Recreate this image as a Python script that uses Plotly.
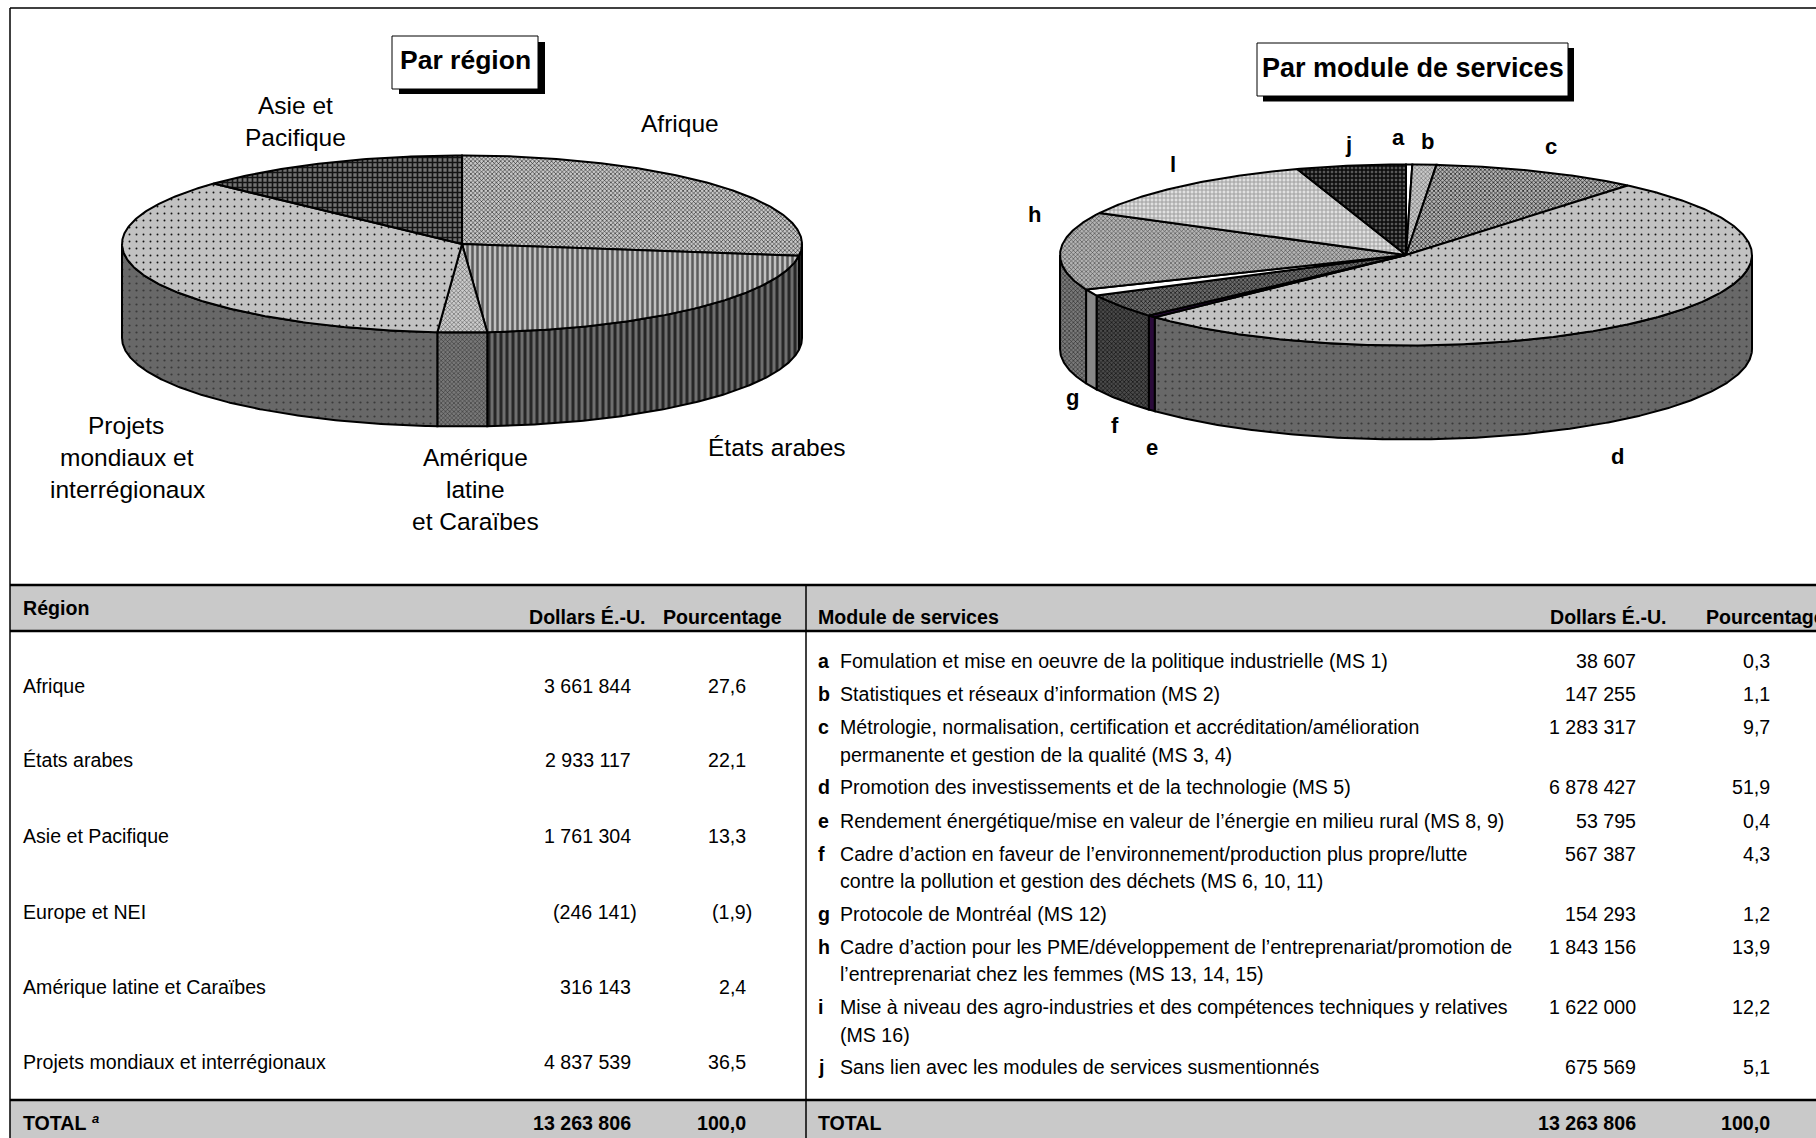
import numpy as np
import plotly.graph_objects as go

# ---------- data ----------
region_pie_labels = ["Afrique", "États arabes", "Amérique latine et Caraïbes",
                     "Projets mondiaux et interrégionaux", "Asie et Pacifique"]
region_pie_values = [3661844, 2933117, 316143, 4837539, 1761304]

module_keys = ["a", "b", "c", "d", "e", "f", "g", "h", "i", "j"]
module_values = [38607, 147255, 1283317, 6878427, 53795, 567387, 154293, 1843156, 1622000, 675569]
module_dollars = ["38 607", "147 255", "1 283 317", "6 878 427", "53 795", "567 387",
                  "154 293", "1 843 156", "1 622 000", "675 569"]
module_pct = ["0,3", "1,1", "9,7", "51,9", "0,4", "4,3", "1,2", "13,9", "12,2", "5,1"]
module_text = [
    ["Fomulation et mise en oeuvre de la politique industrielle (MS 1)"],
    ["Statistiques et réseaux d’information (MS 2)"],
    ["Métrologie, normalisation, certification et accréditation/amélioration",
     "permanente et gestion de la qualité (MS 3, 4)"],
    ["Promotion des investissements et de la technologie (MS 5)"],
    ["Rendement énergétique/mise en valeur de l’énergie en milieu rural (MS 8, 9)"],
    ["Cadre d’action en faveur de l’environnement/production plus propre/lutte",
     "contre la pollution et gestion des déchets (MS 6, 10, 11)"],
    ["Protocole de Montréal (MS 12)"],
    ["Cadre d’action pour les PME/développement de l’entreprenariat/promotion de",
     "l’entreprenariat chez les femmes (MS 13, 14, 15)"],
    ["Mise à niveau des agro-industries et des compétences techniques y relatives",
     "(MS 16)"],
    ["Sans lien avec les modules de services susmentionnés"],
]

region_rows = ["Afrique", "États arabes", "Asie et Pacifique", "Europe et NEI",
               "Amérique latine et Caraïbes", "Projets mondiaux et interrégionaux"]
region_dollars = ["3 661 844", "2 933 117", "1 761 304", "(246 141)", "316 143", "4 837 539"]
region_pct = ["27,6", "22,1", "13,3", "(1,9)", "2,4", "36,5"]
total_dollars = "13 263 806"
total_pct = "100,0"

# ---------- layout constants ----------
W, H = 1816, 1138
FONT = "Liberation Sans"
BODY = 19.6


def pat(shape, fg, bg, size, sol):
    return dict(shape=shape, fgcolor=fg, bgcolor=bg, size=size, solidity=sol, fillmode="replace")


DOTS_TOP = pat(".", "#111111", "#c2c2c2", 7, 0.06)
DOTS_SIDE = pat(".", "#3a3a3a", "#686868", 7, 0.08)

# each slice: (top surface, side surface); a plain string is a solid colour
region_style = [
    (pat("x", "#0a0a0a", "#c8c8c8", 3, 0.32), pat("|", "#202020", "#6a6a6a", 6, 0.4)),
    (pat("|", "#5c5c5c", "#c0c0c0", 5, 0.5), pat("|", "#262626", "#6e6e6e", 6, 0.5)),
    (pat("x", "#444444", "#cccccc", 3, 0.3), pat("x", "#2a2a2a", "#787878", 3, 0.3)),
    (DOTS_TOP, DOTS_SIDE),
    (pat("+", "#141414", "#747474", 5, 0.55), pat("+", "#141414", "#747474", 5, 0.55)),
]
module_style = [
    ("#ffffff", "#ffffff"),
    (pat("x", "#555555", "#c8c8c8", 3, 0.3), pat("x", "#555555", "#c8c8c8", 3, 0.3)),
    (pat("x", "#0a0a0a", "#b4b4b4", 3, 0.38), pat("x", "#0a0a0a", "#b4b4b4", 3, 0.38)),
    (DOTS_TOP, DOTS_SIDE),
    ("#2a0a3a", "#2a0a3a"),
    (pat("x", "#0c0c0c", "#6c6c6c", 3, 0.38), pat("x", "#0c0c0c", "#4a4a4a", 3, 0.38)),
    ("#ffffff", "#888888"),
    (pat("x", "#444444", "#b4b4b4", 3, 0.35), pat("x", "#262626", "#7a7a7a", 3, 0.35)),
    (pat("+", "#a0a0a0", "#e0e0e0", 4, 0.45), pat("+", "#a0a0a0", "#e0e0e0", 4, 0.45)),
    (pat("+", "#0a0a0a", "#585858", 4, 0.6), pat("+", "#0a0a0a", "#585858", 4, 0.6)),
]

fig = go.Figure()


def face(x, y, nm, style):
    kw = dict(fillcolor=style) if isinstance(style, str) else dict(fillpattern=style, fillcolor="rgba(0,0,0,0)")
    fig.add_trace(go.Scatter(x=x, y=y, mode="lines", fill="toself", line=dict(color="black", width=2),
                             name=nm, hoverinfo="name", showlegend=False, **kw))


def pie3d(values, names, styles, cx, cy, rx, ry, depth):
    v = np.asarray(values, dtype=float)
    edges = np.concatenate([[0.0], np.cumsum(v) / v.sum() * 360.0])

    def arc(a, b, dy=0.0):
        t = np.radians(np.linspace(a, b, max(int(abs(b - a) * 2), 2)))
        return cx + rx * np.sin(t), cy - ry * np.cos(t) + dy

    for i, nm in enumerate(names):
        a, b = max(edges[i], 90.0), min(edges[i + 1], 270.0)
        if b <= a:
            continue
        xt, yt = arc(a, b)
        xb, yb = arc(b, a, depth)
        face(np.r_[xt, xb, xt[0]], np.r_[yt, yb, yt[0]], nm, styles[i][1])
    for i, nm in enumerate(names):
        xt, yt = arc(edges[i], edges[i + 1])
        face(np.r_[cx, xt, cx], np.r_[cy, yt, cy], nm, styles[i][0])


pie3d(region_pie_values, region_pie_labels, region_style, 462, 244, 340, 88.5, 94)
pie3d(module_values, module_keys, module_style, 1406, 255, 346, 90.5, 94)

ann = []


def T(x, y, s, anchor="left", size=BODY, bold=False, italic=False, color="black"):
    txt = s
    if bold:
        txt = f"<b>{txt}</b>"
    if italic:
        txt = f"<i>{txt}</i>"
    ann.append(dict(x=x, y=y, xref="x", yref="y", text=txt, showarrow=False, xanchor=anchor,
                    yanchor="middle", font=dict(family=FONT, size=size, color=color),
                    borderpad=0, borderwidth=0))


# pie labels
PL = 24.5
for x, y, s in [(295, 105, "Asie et"), (295, 137, "Pacifique"), (680, 123, "Afrique"),
                (777, 447, "États arabes"), (126, 425, "Projets"), (127, 457, "mondiaux et"),
                (127, 489, "interrégionaux"), (475, 457, "Amérique"), (475, 489, "latine"),
                (475, 521, "et Caraïbes")]:
    T(x, y, s, "center", PL)
for x, y, s in [(1348, 144, "j"), (1398, 137, "a"), (1427, 141, "b"), (1551, 146, "c"),
                (1173, 164, "l"), (1034, 214, "h"), (1072, 397, "g"), (1115, 425, "f"),
                (1152, 447, "e"), (1617, 456, "d")]:
    T(x, y, s, "center", 22, bold=True)

T(465, 60, "Par région", "center", 26.5, bold=True)
T(1413, 68, "Par module de services", "center", 27, bold=True)

# left table
T(23, 608, "Région", bold=True)
T(646, 617, "Dollars É.-U.", "right", bold=True)
T(782, 617, "Pourcentage", "right", bold=True)
left_y = [686, 760, 836, 912, 987, 1062]
for i, y in enumerate(left_y):
    T(23, y, region_rows[i])
    paren = region_dollars[i].startswith("(")
    T(637 if paren else 631, y, region_dollars[i], "right")
    T(752 if paren else 746, y, region_pct[i], "right")
T(23, 1123, "TOTAL", bold=True)
T(92, 1118, "a", size=13, bold=True, italic=True)
T(631, 1123, total_dollars, "right", bold=True)
T(746, 1123, total_pct, "right", bold=True)

# right table
T(818, 617, "Module de services", bold=True)
T(1667, 617, "Dollars É.-U.", "right", bold=True)
T(1706, 617, "Pourcentage", bold=True)
right_y = [[661], [694], [726.5, 755], [787], [821], [854, 881], [913.5], [947, 974], [1006.5, 1035], [1067]]
for i, ys in enumerate(right_y):
    T(818, ys[0], module_keys[i], bold=True)
    T(1636, ys[0], module_dollars[i], "right")
    T(1770, ys[0], module_pct[i], "right")
    for y, line_text in zip(ys, module_text[i]):
        T(840, y, line_text)
T(818, 1123, "TOTAL", bold=True)
T(1636, 1123, total_dollars, "right", bold=True)
T(1770, 1123, total_pct, "right", bold=True)


def rect(x0, y0, x1, y1, fill, lw=0, layer="below"):
    return dict(type="rect", xref="x", yref="y", x0=x0, y0=y0, x1=x1, y1=y1, fillcolor=fill,
                line=dict(color="black", width=lw), layer=layer)


def line(x0, y0, x1, y1, lw=2.5):
    return dict(type="line", xref="x", yref="y", x0=x0, y0=y0, x1=x1, y1=y1,
                line=dict(color="black", width=lw), layer="above")


GRAY = "#c9c9c9"
shapes = [
    rect(10, 585, W, 631, GRAY),
    rect(10, 1100, W, H, GRAY),
    rect(399, 42, 545, 94, "black"),
    rect(392, 36, 538, 89, "white", 1),
    rect(1263, 48, 1574, 101.5, "black"),
    rect(1257, 43, 1568, 96, "white", 1),
    line(10, 8, W, 8, 1.5),
    line(10, 8, 10, H, 1.5),
    line(10, 585, W, 585),
    line(10, 631, W, 631),
    line(10, 1100, W, 1100),
    line(806, 585, 806, H, 1.5),
]

fig.update_layout(
    width=W, height=H, margin=dict(l=0, r=0, t=0, b=0), paper_bgcolor="white", plot_bgcolor="white",
    xaxis=dict(range=[0, W], visible=False, fixedrange=True),
    yaxis=dict(range=[H, 0], visible=False, fixedrange=True),
    showlegend=False, shapes=shapes, annotations=ann, font=dict(family=FONT),
)
fig.write_html("out.html", config={"displayModeBar": False},
               post_script="document.body.style.margin='0';document.body.style.overflow='hidden';")
